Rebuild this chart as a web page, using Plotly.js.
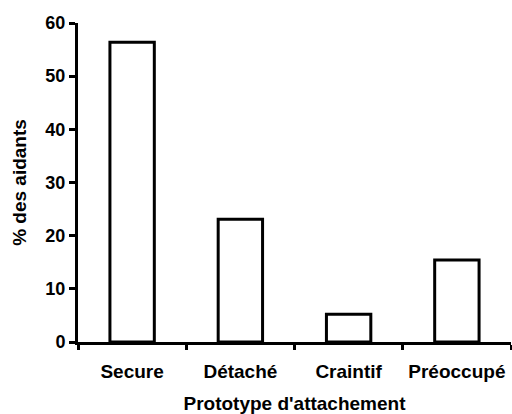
<!DOCTYPE html>
<html>
<head>
<meta charset="utf-8">
<script src="https://cdn.plot.ly/plotly-3.0.1.min.js"></script>
<style>html,body{margin:0;padding:0;background:#fff;}#chart{width:512px;height:414px;}</style>
</head>
<body>
<div id="chart"></div>
<script>
const categories = ["Secure", "Détaché", "Craintif", "Préoccupé"];
const values = [56.4, 23.1, 5.2, 15.4];
const yTickVals = [0, 10, 20, 30, 40, 50, 60];
const xTitle = "Prototype d'attachement";
const yTitle = "% des aidants";

const fontFam = "Arial, 'Liberation Sans', sans-serif";

Plotly.newPlot("chart", [{
  type: "bar",
  x: categories,
  y: values,
  width: 0.41,
  marker: {color: "#ffffff", line: {color: "#000000", width: 3}},
  hoverinfo: "none"
}], {
  width: 512, height: 414,
  margin: {l: 78, r: 1, t: 23, b: 72, pad: 0},
  paper_bgcolor: "#ffffff", plot_bgcolor: "#ffffff",
  font: {family: fontFam, color: "#000000"},
  showlegend: false,
  xaxis: {
    type: "category",
    range: [-0.5, 3.5],
    showline: true, linecolor: "#000", linewidth: 3,
    ticks: "outside", tickson: "boundaries", ticklen: 5, tickwidth: 3, tickcolor: "#000",
    ticklabelstandoff: 10,
    tickfont: {family: fontFam, size: 19, weight: "bold"},
    showgrid: false, zeroline: false,
    title: {text: "<b>" + xTitle + "</b>", font: {family: fontFam, size: 19}, standoff: 18}
  },
  yaxis: {
    range: [0, 60],
    tickvals: yTickVals,
    showline: true, linecolor: "#000", linewidth: 3,
    ticks: "outside", ticklen: 6, tickwidth: 3, tickcolor: "#000",
    tickfont: {family: fontFam, size: 18, weight: "bold"},
    showgrid: false, zeroline: false,
    title: {text: "<b>" + yTitle + "</b>", font: {family: fontFam, size: 19}, standoff: 14}
  }
}, {displayModeBar: false, staticPlot: true});
</script>
</body>
</html>
